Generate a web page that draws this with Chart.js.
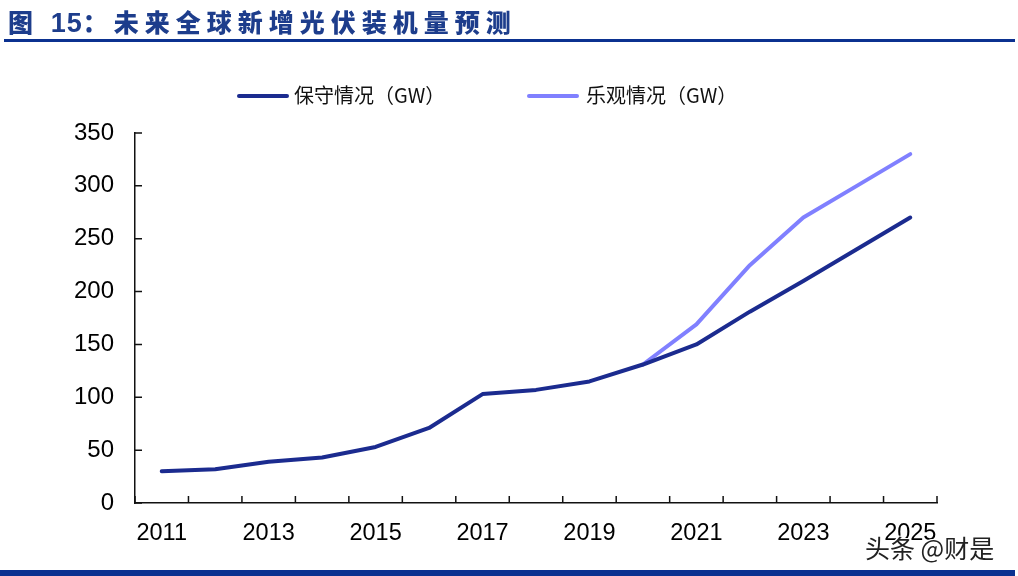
<!DOCTYPE html>
<html>
<head>
<meta charset="utf-8">
<script src="https://cdn.jsdelivr.net/npm/chart.js@4"></script>
<style>
  html, body { margin: 0; padding: 0; background: #fff; }
  #wrap { position: relative; width: 1018px; height: 576px; overflow: hidden; background: #fff; }
  #title { position: absolute; left: 8px; top: 3px; font: 900 25px "Noto Sans CJK SC", sans-serif; color: #1d3d8c; letter-spacing: 6px; white-space: nowrap; }
  #title .num { font-family: "Liberation Sans", Arial, sans-serif; font-weight: bold; font-size: 27px; letter-spacing: 1px; }
  #topline { position: absolute; left: 4px; top: 39px; width: 1011px; height: 3px; background: #0b3190; }
  #botline { position: absolute; left: 0; top: 570px; width: 1015px; height: 6px; background: #0b3190; }
  #legend { position: absolute; top: 80px; left: 0; font: 20px "Noto Sans CJK SC", sans-serif; color: #111; }
  .item { position: absolute; white-space: nowrap; top: 0; }
  .swatch { position: absolute; top: 14px; width: 52px; height: 4px; border-radius: 2px; }
  .lbl { position: absolute; top: 0; }
  #mark { position: absolute; left: 865px; top: 529px; font: 25px "Noto Sans CJK SC", sans-serif; color: #222; white-space: nowrap;
          text-shadow: -1px -1px 0 #fff, 1px -1px 0 #fff, -1px 1px 0 #fff, 1px 1px 0 #fff; }
  canvas { position: absolute; left: 0; top: 0; }
</style>
</head>
<body>
<div id="wrap">
  <canvas id="c" width="1018" height="576"></canvas>
  <div id="title">图 <span class="num">15</span>：未来全球新增光伏装机量预测</div>
  <div id="topline"></div>
  <div id="legend"></div>
  <div id="mark">头条 @财是</div>
  <div id="botline"></div>
</div>
<script>
var years = ['2011', '2012', '2013', '2014', '2015', '2016', '2017', '2018', '2019', '2020', '2021', '2022', '2023', '2024', '2025'];
var conservative = [30, 32, 39, 43, 53, 71, 103, 107, 115, 131, 150, 181, 210, 240, 270];
var optimistic = [null, null, null, null, null, null, null, null, null, 131, 169, 225, 270, 300, 330];
var yTicks = [0, 50, 100, 150, 200, 250, 300, 350];
var seriesNames = ['保守情况（GW）', '乐观情况（GW）'];
var seriesColors = ['#1b2b8f', '#8080ff'];

// legend drawn as html, positions
var legendPos = [{ line: 237, text: 294 }, { line: 527, text: 586 }];
var legend = document.getElementById('legend');
seriesNames.forEach(function(name, i) {
  var it = document.createElement('div');
  it.className = 'item';
  it.innerHTML = '<span class="swatch" style="left:' + legendPos[i].line + 'px;background:' + seriesColors[i] + '"></span>' +
    '<span class="lbl" style="left:' + legendPos[i].text + 'px">' + name + '</span>';
  legend.appendChild(it);
});

// tick marks point into the plot, so they are drawn here
var innerTicks = {
  id: 'innerTicks',
  afterDraw: function(chart) {
    var ctx = chart.ctx, x = chart.scales.x, y = chart.scales.y;
    ctx.save();
    ctx.strokeStyle = '#111';
    ctx.lineWidth = 1.5;
    ctx.beginPath();
    for (var i = 0; i <= years.length; i++) {
      var px = x.getPixelForValue(i - 0.5);
      ctx.moveTo(px, y.bottom);
      ctx.lineTo(px, y.bottom - 7);
    }
    yTicks.forEach(function(v) {
      var py = y.getPixelForValue(v);
      ctx.moveTo(x.left, py);
      ctx.lineTo(x.left + 7, py);
    });
    ctx.stroke();
    ctx.restore();
  }
};

new Chart(document.getElementById('c'), {
  type: 'line',
  data: {
    labels: years,
    datasets: [
      { label: seriesNames[0], data: conservative, borderColor: seriesColors[0], borderWidth: 4, pointRadius: 0, borderCapStyle: 'round', borderJoinStyle: 'round', tension: 0, order: 1 },
      { label: seriesNames[1], data: optimistic, borderColor: seriesColors[1], borderWidth: 4, pointRadius: 0, borderCapStyle: 'round', borderJoinStyle: 'round', tension: 0, order: 2, spanGaps: false }
    ]
  },
  options: {
    responsive: false,
    animation: false,
    devicePixelRatio: 1,
    layout: { padding: { left: 0, top: 133, right: 81, bottom: 13 } },
    plugins: { legend: { display: false }, tooltip: { enabled: false } },
    scales: {
      x: {
        type: 'category',
        offset: true,
        grid: { display: true, offset: true, drawOnChartArea: false, drawTicks: false },
        border: { display: true, color: '#111', width: 1.5 },
        ticks: {
          autoSkip: false, maxRotation: 0, padding: 16, color: '#000',
          font: { family: '"Liberation Sans", Arial, sans-serif', size: 23.5 },
          callback: function(v, i) { return i % 2 === 0 ? years[i] : ''; }
        },
        afterFit: function(s) { s.height = 60; }
      },
      y: {
        min: 0, max: 350,
        grid: { display: true, drawOnChartArea: false, drawTicks: false },
        border: { display: true, color: '#111', width: 1.5 },
        afterBuildTicks: function(s) { s.ticks = yTicks.map(function(v) { return { value: v }; }); },
        ticks: {
          padding: 21, color: '#000',
          font: { family: '"Liberation Sans", Arial, sans-serif', size: 24 }
        },
        afterFit: function(s) { s.width = 135; }
      }
    }
  },
  plugins: [innerTicks]
});
</script>
</body>
</html>
